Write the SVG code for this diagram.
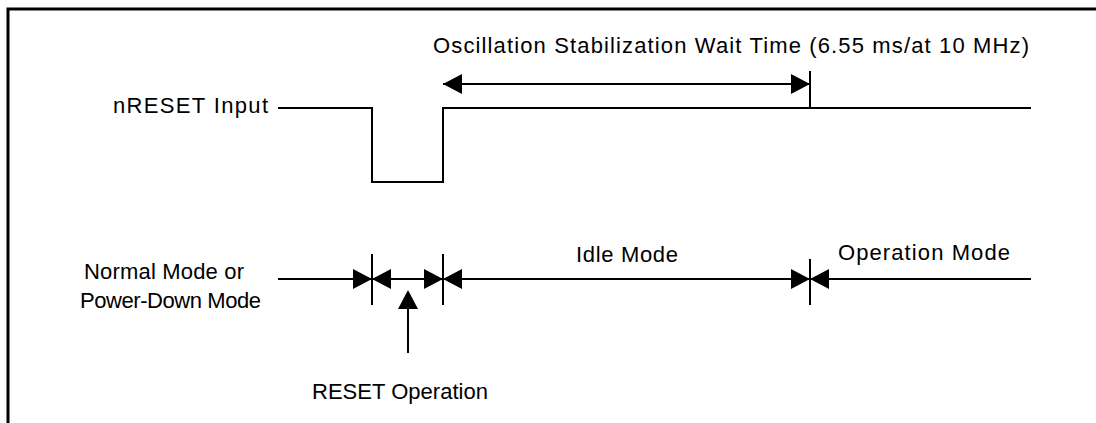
<svg xmlns="http://www.w3.org/2000/svg" width="1096" height="423" viewBox="0 0 1096 423">
<style>
text{font-family:"Liberation Sans",Arial,sans-serif;font-size:22px;fill:#000}
.ln{stroke:#000;stroke-width:2;fill:none}
.ah{fill:#000;stroke:none}
</style>
<defs>
<path id="ar" class="ah" d="M0,0 L-19,-10 L-19,10 Z"/>
<path id="al" class="ah" d="M0,0 L19,-10 L19,10 Z"/>
</defs>
<rect width="1096" height="423" fill="#fff"/>
<g id="frame">
<path d="M8,423 V9 H1096" stroke="#000" stroke-width="3" fill="none"/>
</g>
<g id="nreset">
<text x="113" y="113" textLength="155" lengthAdjust="spacing">nRESET Input</text>
</g>
<g id="osc-label">
<text x="433" y="53" textLength="596" lengthAdjust="spacing">Oscillation Stabilization Wait Time (6.55 ms/at 10 MHz)</text>
</g>
<g id="normal-mode">
<text x="84" y="279" textLength="160" lengthAdjust="spacing">Normal Mode or</text>
<text x="80" y="308" textLength="181" lengthAdjust="spacing">Power-Down Mode</text>
</g>
<g id="idle-mode">
<text x="576" y="262" textLength="102" lengthAdjust="spacing">Idle Mode</text>
</g>
<g id="operation-mode">
<text x="838" y="260" textLength="172" lengthAdjust="spacing">Operation Mode</text>
</g>
<g id="reset-operation">
<text x="312" y="399" textLength="176" lengthAdjust="spacing">RESET Operation</text>
</g>
<g id="connectors">
<path class="ln" d="M278,108 H372 V182 H443 V108 H1031"/>
<line class="ln" x1="443" y1="84" x2="810" y2="84"/>
<line class="ln" x1="810" y1="71" x2="810" y2="108"/>
<use href="#al" x="443" y="84"/>
<use href="#ar" x="810" y="84"/>
<line class="ln" x1="278" y1="279" x2="1031" y2="279"/>
<line class="ln" x1="372" y1="254" x2="372" y2="305"/>
<line class="ln" x1="443" y1="254" x2="443" y2="305"/>
<line class="ln" x1="810" y1="259" x2="810" y2="305"/>
<use href="#ar" x="372" y="279"/>
<use href="#al" x="372" y="279"/>
<use href="#ar" x="443" y="279"/>
<use href="#al" x="443" y="279"/>
<use href="#ar" x="810" y="279"/>
<use href="#al" x="810" y="279"/>
<line class="ln" x1="408" y1="300" x2="408" y2="353"/>
<path class="ah" d="M408,290 L398,309 L418,309 Z"/>
</g>
</svg>
